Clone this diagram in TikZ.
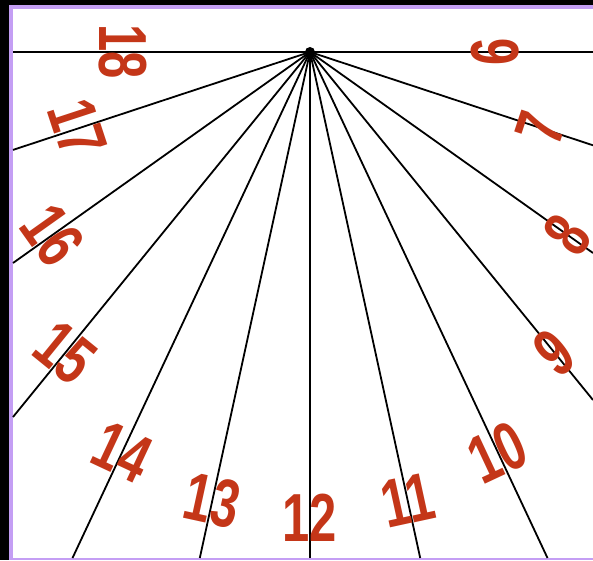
\documentclass[tikz,border=0pt]{standalone}
\usepackage{fontspec}
\setmainfont{Liberation Sans}
\usetikzlibrary{calc}
\definecolor{frameviolet}{RGB}{196,158,244}
\definecolor{numred}{RGB}{196,54,24}
\begin{document}
\begin{tikzpicture}[x=1pt,y=1pt,
  hourline/.style={line width=1.8pt,black},
  hourlbl/.style={text=numred,inner sep=0pt,font=\fontsize{68}{68}\selectfont\bfseries}]
\useasboundingbox (0,0) rectangle (593,560);
% frame
\fill[black] (0,0) rectangle (593,560);
\fill[frameviolet] (9,0) rectangle (593,555);
\fill[white] (13,2) rectangle (593,551);
% hub
\coordinate (H) at (310,508);
% line ends
\coordinate (E6) at (593,508);
\coordinate (E7) at (593,414.7);
\coordinate (E8) at (593,307);
\coordinate (E9) at (593,160);
\coordinate (E10) at (547.5,2);
\coordinate (E11) at (420.2,2);
\coordinate (E12) at (310,2);
\coordinate (E13) at (199.8,2);
\coordinate (E14) at (72.5,2);
\coordinate (E15) at (13,143);
\coordinate (E16) at (13,297);
\coordinate (E17) at (13,410.1);
\coordinate (E18) at (13,508);
\foreach \h in {6,...,18} {\draw[hourline] (H) -- (E\h);}
\draw[hourline,line width=2.2pt] (E18) -- (E6);
\fill[black] (H) circle (5);
% labels
\foreach \h/\a/\r in {6/0/185,7/-18.2/243,8/-35.4/316,9/-50.9/388,10/-64.9/442,
    11/-77.7/459,12/-90/466,13/-102.3/459,14/-115.1/442,15/-129.1/388,
    16/-144.6/316,17/-161.8/245,18/180/187} {
  \pgfmathsetmacro{\rot}{\a+90}
  \node[hourlbl,rotate=\rot] (N\h) at ($(H)+(\a:\r)$) {\scalebox{0.72}[1]{\h}};
}
\end{tikzpicture}
\end{document}
